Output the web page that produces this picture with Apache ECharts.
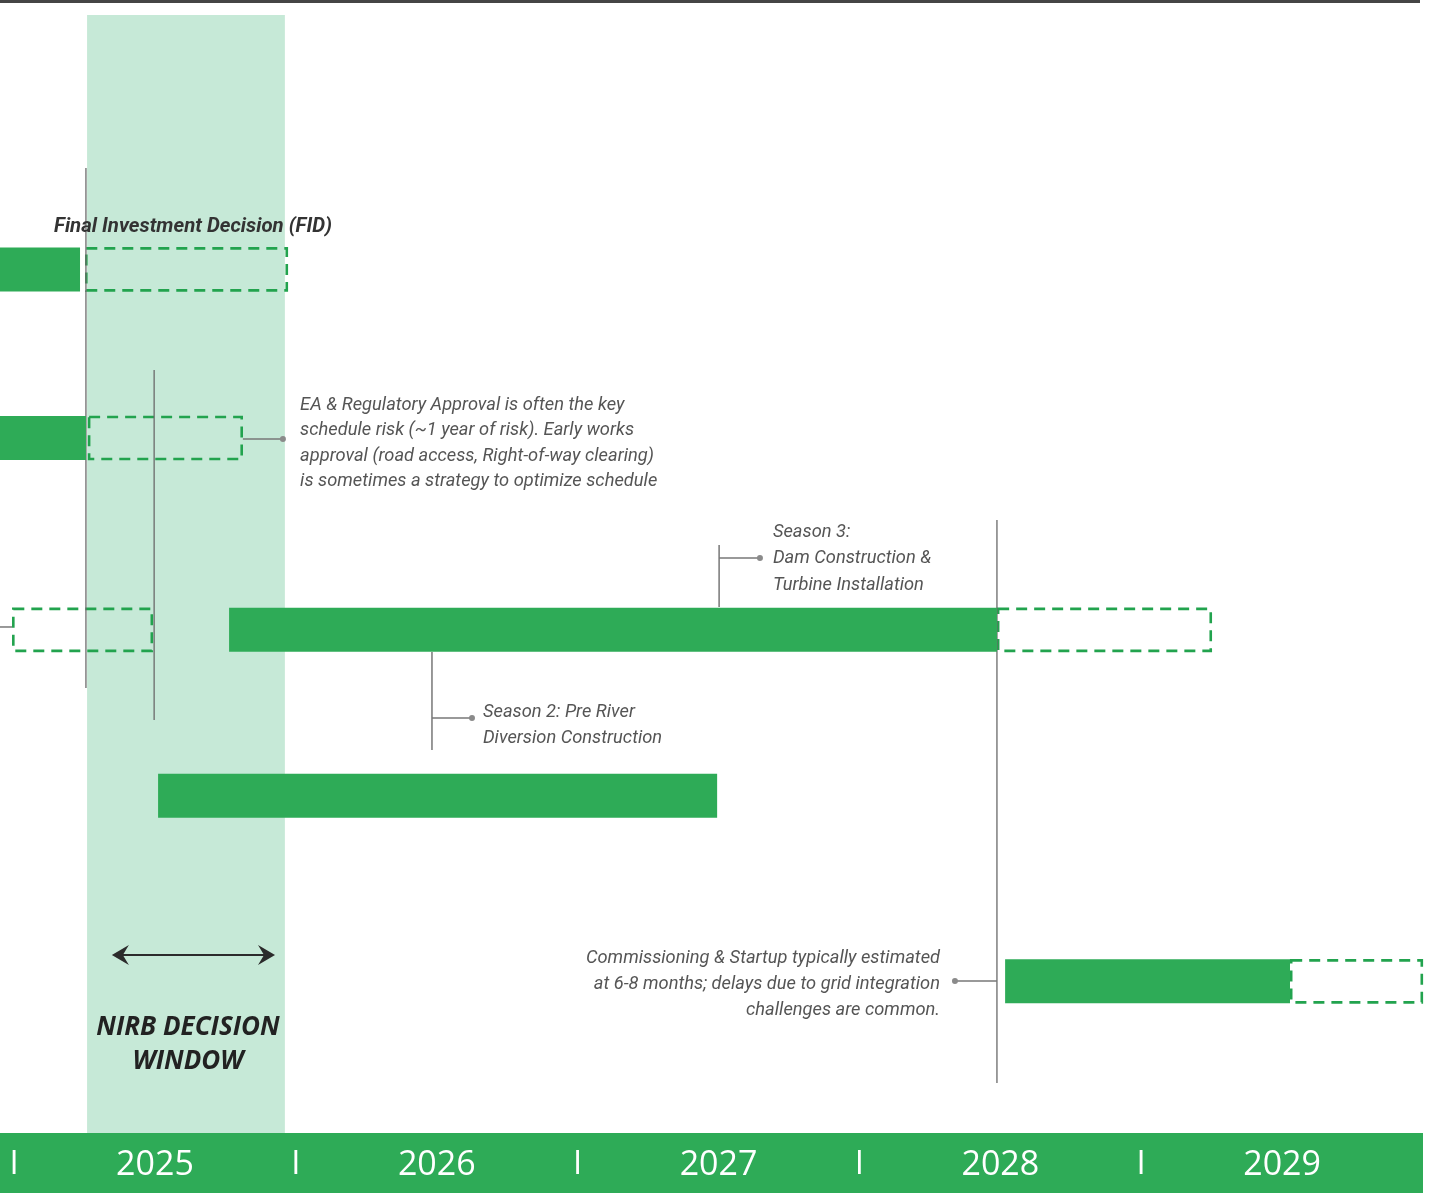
<!DOCTYPE html>
<html>
<head>
<meta charset="utf-8">
<script src="https://cdn.jsdelivr.net/npm/echarts@6/dist/echarts.min.js"></script>
<style>
  html, body { margin: 0; padding: 0; background: #ffffff; }
  #chart { width: 1429px; height: 1195px; }
</style>
</head>
<body>
<div id="chart"></div>
<script>
// ---- timeline values (decimal years) ----
const years = [2025, 2026, 2027, 2028, 2029];

// one lane per activity row
const taskLanes = [1.01, 1.955, 3.03, 3.96, 5.0];

// planned work (solid bars)
const solidStart = [2024.5, 2024.5, 2025.763, 2025.511, 2028.517];
const solidEnd   = [2025.234, 2025.255, 2028.488, 2027.495, 2029.528];

// schedule-risk ranges (dashed outlines)
const riskRow   = [0, 1, 2, 2, 4];
const riskStart = [2025.252, 2025.262, 2024.993, 2028.488, 2029.528];
const riskEnd   = [2025.972, 2025.812, 2025.493, 2029.251, 2030.0];

// NIRB decision window
const decisionWindow = [2025.259, 2025.961];
const windowArrow = [2025.347, 2025.926];

// milestone rules: date, lane extent
const milestoneDate = [2025.255, 2025.497, 2028.488];
const milestoneFrom = [0.442, 1.574, 2.414];
const milestoneTo   = [3.356, 3.535, 5.570];

// call-out text
const noteText = [
  'Final Investment Decision (FID)',
  'EA & Regulatory Approval is often the key\nschedule risk (~1 year of risk). Early works\napproval (road access, Right-of-way clearing)\nis sometimes a strategy to optimize schedule',
  'Season 3:\nDam Construction &\nTurbine Installation',
  'Season 2: Pre River\nDiversion Construction',
  'Commissioning & Startup typically estimated\nat 6-8 months; delays due to grid integration\nchallenges are common.',
  'NIRB DECISION\nWINDOW'
];

// ---- layout ----
const X_MIN = 2024.95, X_MAX = 2030.0;
const Y_MIN = -0.5, Y_MAX = 5.85;
const GREEN = '#2eab57';
const DASH_GREEN = '#22a34e';
const BAND = '#c6e9d7';
const RULE = '#6a6a6a';
const BAR_H = 44;
const RISK_H = 42;

// where each call-out sits: [date, lane, align, font, colour, lineHeight]
const noteLayout = [
  [2025.635, 0.770, 'center', 'italic bold 20.4px Roboto', '#333333', 24],
  [2026.015, 1.986, 'left', 'italic 18.3px Roboto', '#555555', 25.3],
  [2027.693, 2.632, 'left', 'italic 18.3px Roboto', '#555555', 26.5],
  [2026.664, 3.568, 'left', 'italic 18.3px Roboto', '#555555', 26],
  [2028.286, 5.020, 'right', 'italic 18.3px Roboto', '#555555', 26],
  [2025.617, 5.352, 'center', 'italic bold 26px "Open Sans"', '#222222', 34]
];

// leader lines from bars to call-outs; last point carries a dot when flagged
const leaders = [
  { pts: [[2025.812, 1.960], [2025.954, 1.960]], dot: true },
  { pts: [[2027.502, 2.902], [2027.502, 2.554]], dot: false },
  { pts: [[2027.502, 2.627], [2027.647, 2.627]], dot: true },
  { pts: [[2026.483, 3.154], [2026.483, 3.703]], dot: false },
  { pts: [[2026.483, 3.524], [2026.625, 3.524]], dot: true },
  { pts: [[2028.488, 4.998], [2028.339, 4.998]], dot: true },
  { pts: [[2024.95, 3.014], [2024.993, 3.014]], dot: false }
];

const chart = echarts.init(document.getElementById('chart'), null, { renderer: 'canvas' });

function clipToGrid(rect, params) {
  const cs = params.coordSys;
  return echarts.graphic.clipRectByRect(rect, { x: cs.x, y: cs.y, width: cs.width, height: cs.height });
}

const solidData = solidStart.map((s, i) => [s, solidEnd[i], taskLanes[i]]);
const riskData = riskStart.map((s, i) => [s, riskEnd[i], taskLanes[riskRow[i]]]);
const ruleData = milestoneDate.map((d, i) => [d, milestoneFrom[i], milestoneTo[i]]);
const noteData = noteText.map((t, i) => [noteLayout[i][0], noteLayout[i][1], i]);

const option = {
  animation: false,
  backgroundColor: '#ffffff',
  grid: [
    { left: 0, top: 0, width: 1423, height: 1133 },
    { left: 0, top: 1133, width: 1423, height: 60, show: true, backgroundColor: GREEN, borderWidth: 0 }
  ],
  xAxis: [
    { gridIndex: 0, type: 'value', min: X_MIN, max: X_MAX, show: false },
    {
      gridIndex: 1, type: 'value', min: X_MIN, max: X_MAX, position: 'bottom',
      axisLine: { show: false }, axisTick: { show: false }, splitLine: { show: false },
      axisLabel: {
        inside: true, margin: 28, verticalAlign: 'middle',
        customValues: years.map(y => y + 0.5),
        formatter: v => String(Math.floor(v)),
        color: '#ffffff', fontSize: 34, fontFamily: '"Open Sans"'
      }
    },
    {
      gridIndex: 1, type: 'value', min: X_MIN, max: X_MAX, position: 'bottom',
      axisLine: { show: false }, axisTick: { show: false }, splitLine: { show: false },
      axisLabel: {
        inside: true, margin: 28, verticalAlign: 'middle',
        customValues: years,
        formatter: () => 'I',
        color: '#ffffff', fontSize: 33, fontFamily: '"Open Sans"'
      }
    }
  ],
  yAxis: [
    { gridIndex: 0, type: 'value', min: Y_MIN, max: Y_MAX, inverse: true, show: false },
    { gridIndex: 1, type: 'value', min: 0, max: 1, show: false }
  ],
  graphic: [
    { type: 'rect', left: 0, top: 0, shape: { width: 1420, height: 3 }, style: { fill: '#454545' }, silent: true }
  ],
  series: [
    {
      name: 'NIRB decision window',
      type: 'custom', xAxisIndex: 0, yAxisIndex: 0, z: 1, silent: true,
      data: [[decisionWindow[0], decisionWindow[1]]],
      renderItem: (params, api) => {
        const a = api.coord([api.value(0), -0.416]);
        const b = api.coord([api.value(1), Y_MAX]);
        return { type: 'rect', shape: { x: a[0], y: a[1], width: b[0] - a[0], height: b[1] - a[1] }, style: { fill: BAND } };
      }
    },
    {
      name: 'Risk range',
      type: 'custom', xAxisIndex: 0, yAxisIndex: 0, z: 3, silent: true,
      data: riskData,
      renderItem: (params, api) => {
        const a = api.coord([api.value(0), api.value(2)]);
        const b = api.coord([api.value(1), api.value(2)]);
        return {
          type: 'rect',
          shape: { x: a[0] + 1.2, y: a[1] - RISK_H / 2, width: b[0] - a[0] - 2.4, height: RISK_H },
          style: { fill: null, stroke: DASH_GREEN, lineWidth: 2.6, lineDash: [11, 7] }
        };
      }
    },
    {
      name: 'Milestones',
      type: 'custom', xAxisIndex: 0, yAxisIndex: 0, z: 4, silent: true,
      data: ruleData,
      renderItem: (params, api) => {
        const a = api.coord([api.value(0), api.value(1)]);
        const b = api.coord([api.value(0), api.value(2)]);
        return { type: 'line', shape: { x1: a[0], y1: a[1], x2: b[0], y2: b[1] }, style: { stroke: RULE, lineWidth: 1.3 } };
      }
    },
    {
      name: 'Planned',
      type: 'custom', xAxisIndex: 0, yAxisIndex: 0, z: 5, silent: true,
      data: solidData,
      renderItem: (params, api) => {
        const a = api.coord([api.value(0), api.value(2)]);
        const b = api.coord([api.value(1), api.value(2)]);
        const r = clipToGrid({ x: a[0], y: a[1] - BAR_H / 2, width: b[0] - a[0], height: BAR_H }, params);
        return r && { type: 'rect', shape: r, style: { fill: GREEN } };
      }
    },
    {
      name: 'Leaders',
      type: 'custom', xAxisIndex: 0, yAxisIndex: 0, z: 6, silent: true,
      data: leaders.map((l, i) => [l.pts[0][0], l.pts[0][1], i]),
      renderItem: (params, api) => {
        const l = leaders[api.value(2)];
        const pts = l.pts.map(p => api.coord(p));
        const children = [{ type: 'polyline', shape: { points: pts }, style: { stroke: '#777777', lineWidth: 1.5, fill: null } }];
        if (l.dot) {
          const e = pts[pts.length - 1];
          children.push({ type: 'circle', shape: { cx: e[0], cy: e[1], r: 3 }, style: { fill: '#8a8a8a' } });
        }
        return { type: 'group', children };
      }
    },
    {
      name: 'Window arrow',
      type: 'custom', xAxisIndex: 0, yAxisIndex: 0, z: 6, silent: true,
      data: [[windowArrow[0], windowArrow[1], 4.852]],
      renderItem: (params, api) => {
        const a = api.coord([api.value(0), api.value(2)]);
        const b = api.coord([api.value(1), api.value(2)]);
        const y = a[1];
        const head = (x, dir) => ({
          type: 'polygon',
          shape: { points: [[x, y], [x + dir * 17, y - 10], [x + dir * 11, y], [x + dir * 17, y + 10]] },
          style: { fill: '#2b2b2b' }
        });
        return {
          type: 'group',
          children: [
            { type: 'line', shape: { x1: a[0] + 4, y1: y, x2: b[0] - 4, y2: y }, style: { stroke: '#2b2b2b', lineWidth: 2 } },
            head(a[0], 1), head(b[0], -1)
          ]
        };
      }
    },
    {
      name: 'Notes',
      type: 'custom', xAxisIndex: 0, yAxisIndex: 0, z: 7, silent: true,
      data: noteData,
      renderItem: (params, api) => {
        const i = api.value(2);
        const L = noteLayout[i];
        const p = api.coord([api.value(0), api.value(1)]);
        return {
          type: 'text',
          x: p[0], y: p[1],
          style: {
            text: noteText[i], font: L[3], fill: L[4],
            align: L[2], verticalAlign: 'middle', lineHeight: L[5]
          }
        };
      }
    }
  ]
};

chart.setOption(option);
</script>
</body>
</html>
